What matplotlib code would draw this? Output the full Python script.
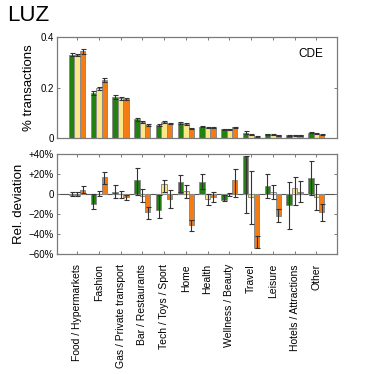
import numpy as np
import matplotlib
matplotlib.use("Agg")
import matplotlib.pyplot as plt

plt.rcParams['font.family'] = ['Liberation Sans', 'DejaVu Sans']

# categories and the three series (green, yellow, orange)
categories = ["Food / Hypermarkets", "Fashion", "Gas / Private transport",
              "Bar / Restaurants", "Tech / Toys / Sport", "Home", "Health",
              "Wellness / Beauty", "Travel", "Leisure", "Hotels / Attractions",
              "Other"]

# share of transactions
share_g = [0.330, 0.178, 0.162, 0.075, 0.050, 0.060, 0.045, 0.035, 0.020, 0.015, 0.010, 0.020]
share_y = [0.328, 0.197, 0.158, 0.065, 0.063, 0.055, 0.040, 0.035, 0.013, 0.013, 0.010, 0.017]
share_o = [0.343, 0.230, 0.153, 0.053, 0.057, 0.037, 0.040, 0.042, 0.005, 0.010, 0.010, 0.013]
share_err_g = [0.005, 0.008, 0.008, 0.006, 0.004, 0.003, 0.003, 0.002, 0.006, 0.002, 0.002, 0.002]
share_err_y = [0.005, 0.005, 0.006, 0.004, 0.003, 0.003, 0.002, 0.002, 0.003, 0.002, 0.002, 0.002]
share_err_o = [0.011, 0.008, 0.004, 0.004, 0.003, 0.002, 0.002, 0.003, 0.001, 0.002, 0.002, 0.002]

# relative deviation (%) with error bar bounds
dev_g = [-1, -10, 2, 14, -16, 12, 12, -6, 37.5, 8, -11.5, 16]
dev_y = [-1, 0, 0, -2, 10, 3, -5, 0, -3, 2, 6, -3]
dev_o = [4, 17, -3, -18, -5, -31, -3, 14, -54, -21.5, 2, -18]
lo_g = [-2, -15, -4, -1.5, -24, 2, 4.5, -7.5, -19, -4, -35, -1]
hi_g = [2, -0.5, 9, 25.5, -1.5, 18.5, 19.5, -1.5, 37.5, 20, 12, 33]
lo_y = [-2.5, -2, -4, -8, 2, -4, -11, -2, -30, -5, -11, -16.5]
hi_y = [2, 3, 3, 5, 14, 8.5, 0, 1, 23, 9, 17, 10]
lo_o = [1, 9.5, -6, -25, -14, -37, -8, -3, -54, -27.5, -8, -26.5]
hi_o = [8, 22, -1.5, -13, 4, -25.5, 2, 24.5, -41.5, -15, 13, -10]

colors = ['#23820f', '#fbe68a', '#f57c12']
edge = '#8c8c8c'
spine_c = '#7a7a7a'

x = np.arange(len(categories))
w = 0.25

fig = plt.figure(figsize=(3.74, 3.74), dpi=100)
ax1 = fig.add_axes([0.152, 0.631, 0.749, 0.270])
ax2 = fig.add_axes([0.152, 0.320, 0.749, 0.2695])

ekw = dict(ecolor='#333333', elinewidth=0.8, capsize=1.8, capthick=0.8)

for off, vals, err, c in zip([-w, 0, w], [share_g, share_y, share_o],
                             [share_err_g, share_err_y, share_err_o], colors):
    ax1.bar(x + off, vals, w, color=c, edgecolor=edge, linewidth=0.7,
            yerr=err, error_kw=ekw, zorder=2)

for off, vals, lo, hi, c in zip([-w, 0, w], [dev_g, dev_y, dev_o],
                                [lo_g, lo_y, lo_o], [hi_g, hi_y, hi_o], colors):
    vals = np.array(vals, float)
    yerr = [vals - np.array(lo), np.array(hi) - vals]
    yerr = [np.clip(yerr[0], 0, None), np.clip(yerr[1], 0, None)]
    ax2.bar(x + off, vals, w, color=c, edgecolor=edge, linewidth=0.7, zorder=2)
    ax2.errorbar(x + off, vals, yerr=yerr, fmt='none', zorder=3, **ekw)

ax2.axhline(0, color='#555555', linewidth=0.8, zorder=1)

for ax in (ax1, ax2):
    ax.set_xlim(-0.93, 11.95)
    ax.set_xticks(x)
    ax.tick_params(direction='in', length=2.5, width=0.7, color=spine_c,
                   top=True, right=True, labelsize=7, pad=2)
    for s in ax.spines.values():
        s.set_color(spine_c)
        s.set_linewidth(0.9)

ax1.set_ylim(0, 0.4)
ax1.set_yticks([0, 0.2, 0.4])
ax1.set_yticklabels(['0', '0.2', '0.4'])
ax1.set_xticklabels([])
ax1.set_ylabel('% transactions', fontsize=9.5, labelpad=4)
ax1.text(0.95, 0.83, 'CDE', transform=ax1.transAxes, ha='right', va='center',
         fontsize=8.5)

ax2.set_ylim(-60, 40)
ax2.set_yticks([40, 20, 0, -20, -40, -60])
ax2.set_yticklabels(['+40%', '+20%', '0', '\u221220%', '\u221240%', '\u221260%'])
ax2.set_xticklabels(categories, rotation=90, fontsize=7.5)
ax2.tick_params(axis='x', pad=7)
ax2.set_ylabel('Rel. deviation', fontsize=9.5, labelpad=3)

fig.text(0.02, 0.93, 'LUZ', fontsize=16, ha='left', va='bottom')

fig.savefig('out.png', dpi=100)
